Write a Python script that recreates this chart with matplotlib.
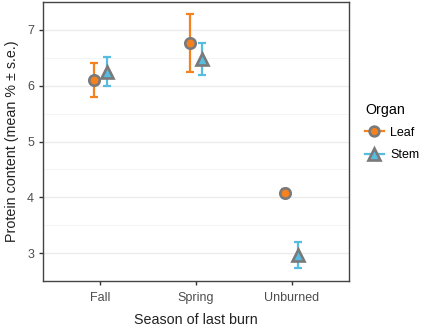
import matplotlib
matplotlib.use("Agg")
import matplotlib.pyplot as plt
from matplotlib.lines import Line2D
import numpy as np

plt.rcParams['font.family'] = ['Liberation Sans', 'DejaVu Sans']

seasons = ["Fall", "Spring", "Unburned"]
organs = ["Leaf", "Stem"]
leaf_mean = [6.10, 6.76, 4.07]
leaf_se = [0.31, 0.52, 0.07]
stem_mean = [6.25, 6.48, 2.97]
stem_se = [0.26, 0.29, 0.23]

colors = {"Leaf": "#F5821F", "Stem": "#56BCE0"}
markers = {"Leaf": "o", "Stem": "^"}
offsets = {"Leaf": -0.065, "Stem": 0.065}
sizes = {"Leaf": 7.5, "Stem": 9.0}
edge = "#7a7a7a"

fig = plt.figure(figsize=(4.21, 3.27), dpi=100)
ax = fig.add_axes([43/421, 1 - 281/327, (349-43)/421, (281-2)/327])

x = np.arange(1, len(seasons) + 1)
for organ, means, ses in [("Leaf", leaf_mean, leaf_se), ("Stem", stem_mean, stem_se)]:
    xs = x + offsets[organ]
    ax.errorbar(xs, means, yerr=ses, fmt="none", ecolor=colors[organ],
                elinewidth=1.6, capsize=3.0, capthick=1.6, zorder=2)
    ax.plot(xs, means, linestyle="none", marker=markers[organ], markersize=sizes[organ],
            markerfacecolor=colors[organ], markeredgecolor=edge, markeredgewidth=1.9, zorder=3)

ax.set_xlim(0.4, 3.6)
ax.set_ylim(2.52, 7.5)
ax.set_xticks(x)
ax.set_xticklabels(seasons)
ax.set_yticks([3, 4, 5, 6, 7])
ax.set_yticks([2.5, 3.5, 4.5, 5.5, 6.5], minor=True)
ax.grid(axis="y", which="major", color="#ebebeb", linewidth=1.0)
ax.grid(axis="y", which="minor", color="#f3f3f3", linewidth=0.6)
ax.set_axisbelow(True)
ax.tick_params(axis="both", which="major", labelsize=9, colors="#333333", length=3, width=1,
               labelcolor="#4d4d4d")
ax.tick_params(axis="x", which="major", pad=5)
ax.tick_params(axis="y", which="minor", length=0)
for s in ax.spines.values():
    s.set_color("#444444")
    s.set_linewidth(1.0)

ax.set_xlabel("Season of last burn", fontsize=10.3, color="#222222", labelpad=6.5)
ax.set_ylabel("Protein content (mean % ± s.e.)", fontsize=10.3, color="#222222", labelpad=6)

handles = [Line2D([0], [0], color=colors[o], linewidth=1.6, marker=markers[o],
                  markersize=sizes[o] - 0.5, markerfacecolor=colors[o],
                  markeredgecolor=edge, markeredgewidth=1.9) for o in organs]
leg = fig.legend(handles, organs, title="Organ", loc="upper left",
                 bbox_to_anchor=(365/421, 1 - 103/327), frameon=False,
                 fontsize=9, title_fontsize=10.3, handlelength=1.5,
                 handletextpad=0.5, labelspacing=0.85, borderpad=0, borderaxespad=0)
leg._legend_box.align = "left"
leg._legend_box.sep = 7

fig.savefig("out.png", dpi=100)
